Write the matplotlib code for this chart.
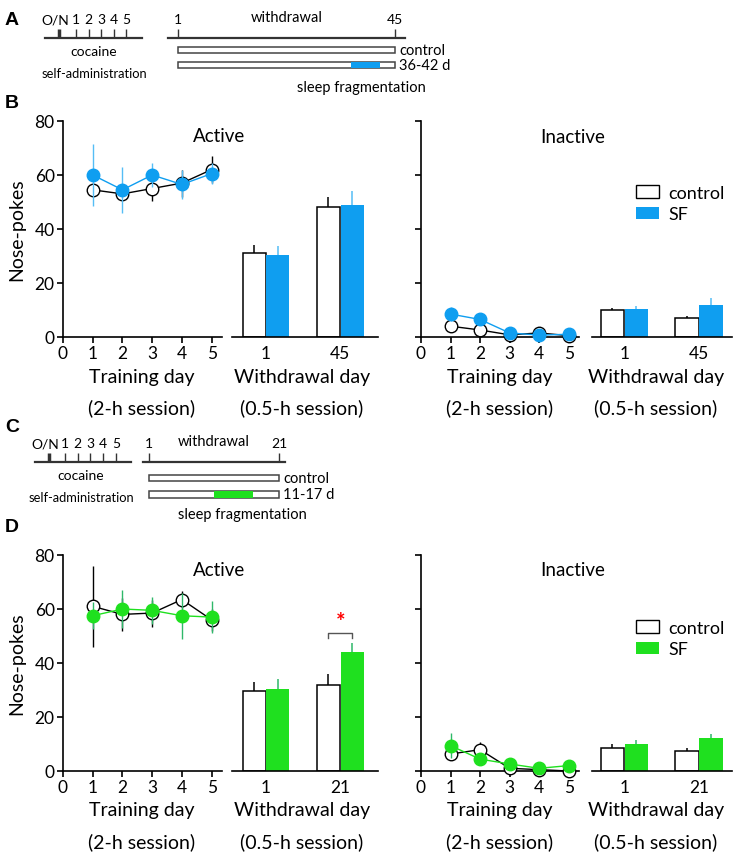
import matplotlib
matplotlib.use("Agg")
import matplotlib.pyplot as plt
from matplotlib.patches import Patch

plt.rcParams['font.family'] = ['Lato', 'DejaVu Sans']

# ---- data ----
days = [1, 2, 3, 4, 5]

# panel B (45 d withdrawal, blue)
b_act_ctrl = [54.5, 53, 55, 57, 62]
b_act_ctrl_err = [2, 2, 4.5, 5, 5]
b_act_sf = [60, 54.5, 60, 56.5, 60.5]
b_act_sf_err = [11.5, 8.5, 4.5, 5.5, 4]
b_act_bar_ctrl = [31, 48]
b_act_bar_ctrl_err = [3, 4]
b_act_bar_sf = [30.5, 49]
b_act_bar_sf_err = [3.2, 5]

b_inact_ctrl = [4, 2.6, 0.8, 1.5, 0.5]
b_inact_ctrl_err = [1, 0.8, 0.5, 0.5, 0.3]
b_inact_sf = [8.5, 6.5, 1.5, 0.7, 1]
b_inact_sf_err = [2.5, 1, 0.5, 0.4, 0.4]
b_inact_bar_ctrl = [10, 7.2]
b_inact_bar_ctrl_err = [0.8, 0.5]
b_inact_bar_sf = [10.5, 12]
b_inact_bar_sf_err = [0.8, 2.5]
b_withdrawal_labels = ['1', '45']

# panel D (21 d withdrawal, green)
d_act_ctrl = [61, 58, 58.5, 63.5, 56]
d_act_ctrl_err = [15, 6, 5, 3, 4]
d_act_sf = [57.5, 60, 59.5, 57.5, 57]
d_act_sf_err = [5, 7, 5, 8.5, 6]
d_act_bar_ctrl = [29.7, 32]
d_act_bar_ctrl_err = [3.3, 4]
d_act_bar_sf = [30.4, 44.2]
d_act_bar_sf_err = [3.6, 3.3]

d_inact_ctrl = [6.3, 7.9, 1, 0.5, 0]
d_inact_ctrl_err = [1.5, 3, 0.8, 0.4, 0.3]
d_inact_sf = [9.4, 4.4, 2.6, 1, 2]
d_inact_sf_err = [4.5, 1, 1, 0.5, 0.5]
d_inact_bar_ctrl = [8.5, 7.3]
d_inact_bar_ctrl_err = [1.5, 1.3]
d_inact_bar_sf = [10, 12.2]
d_inact_bar_sf_err = [1.5, 1.5]
d_withdrawal_labels = ['1', '21']

# timelines
train_labels = ['O/N', '1', '2', '3', '4', '5']
a_withdrawal = (1, 45)
a_sf = (36, 42)
c_withdrawal = (1, 21)
c_sf = (11, 17)

BLUE = '#0f9ef0'
GREEN = '#1fe01f'
GREEN_ERR = '#2fb86a'

W, H = 735, 853
fig = plt.figure(figsize=(W / 100, H / 100), dpi=100)


def px_axes(x0, y0, x1, y1):
    return fig.add_axes([x0 / W, 1 - y1 / H, (x1 - x0) / W, (y1 - y0) / H])


ov = px_axes(0, 0, W, H)
ov.set_xlim(0, W)
ov.set_ylim(H, 0)
ov.axis('off')
ov.set_zorder(10)


def line_panel(ax, ctrl, ctrl_err, sf, sf_err, col, ecol, show_y):
    ax.errorbar(days, ctrl, yerr=ctrl_err, color='k', lw=1, ecolor='k', elinewidth=1,
                marker='o', ms=9, mfc='white', mec='k', mew=1, capsize=0, clip_on=False, zorder=3)
    ax.errorbar(days, sf, yerr=sf_err, color=col, lw=1, ecolor=ecol, elinewidth=1,
                marker='o', ms=9, mfc=col, mec=col, capsize=0, clip_on=False, zorder=4)
    ax.set_xlim(0, 5.35)
    ax.set_ylim(0, 80)
    ax.set_xticks([0, 1, 2, 3, 4, 5])
    ax.set_yticks([0, 20, 40, 60, 80])
    for s in ['top', 'right']:
        ax.spines[s].set_visible(False)
    for s in ['left', 'bottom']:
        ax.spines[s].set_linewidth(1.2)
    ax.tick_params(length=4, width=1.2, labelsize=12.5, pad=2)
    if not show_y:
        ax.set_yticklabels([])


def bar_panel(ax, ctrl, ctrl_err, sf, sf_err, col, ecol, labels):
    x = [1, 2]
    w = 0.31
    xc = [v - 0.16 for v in x]
    xs = [v + 0.16 for v in x]
    ax.bar(xc, ctrl, width=w, color='white', edgecolor='k', lw=1.1, zorder=2)
    ax.bar(xs, sf, width=w, color=col, edgecolor='none', zorder=2)
    ax.errorbar(xc, ctrl, yerr=[[0, 0], ctrl_err], fmt='none', ecolor='k', elinewidth=1.1, capsize=0, zorder=1)
    ax.errorbar(xs, sf, yerr=[[0, 0], sf_err], fmt='none', ecolor=ecol, elinewidth=1.1, capsize=0, zorder=1)
    ax.set_ylim(0, 80)
    ax.set_xticks(x)
    ax.set_xticklabels(labels)
    for s in ['top', 'right', 'left']:
        ax.spines[s].set_visible(False)
    ax.spines['bottom'].set_linewidth(1.2)
    ax.set_yticks([])
    ax.tick_params(axis='x', length=0, labelsize=12.5, pad=6)
    return xc, xs


def xlabels(ax_top, ybot):
    for cx, big, small in [(142, 'Training day', '(2-h session)'),
                           (302, 'Withdrawal day', '(0.5-h session)'),
                           (500, 'Training day', '(2-h session)'),
                           (656, 'Withdrawal day', '(0.5-h session)')]:
        ov.text(cx, ybot + 39, big, ha='center', va='center', fontsize=14)
        ov.text(cx, ybot + 70, small, ha='center', va='center', fontsize=14)
    ov.text(219, ax_top + 14, 'Active', ha='center', va='center', fontsize=13.5)
    ov.text(573, ax_top + 15, 'Inactive', ha='center', va='center', fontsize=13.5)
    ov.text(17, (ax_top + ybot) / 2, 'Nose-pokes', rotation=90, ha='center', va='center', fontsize=14)


def behaviour(top, bot, col, ecol, act, inact, wlabels, leg_y):
    a1 = px_axes(63, top, 222, bot)
    line_panel(a1, act[0], act[1], act[2], act[3], col, ecol, True)
    a2 = px_axes(232, top, 378, bot)
    a2.set_xlim(0.54, 2.51)
    xc, xs = bar_panel(a2, act[4], act[5], act[6], act[7], col, ecol, wlabels)
    a3 = px_axes(421, top, 579, bot)
    line_panel(a3, inact[0], inact[1], inact[2], inact[3], col, ecol, False)
    a4 = px_axes(592, top, 732, bot)
    a4.set_xlim(0.57, 2.44)
    bar_panel(a4, inact[4], inact[5], inact[6], inact[7], col, ecol, wlabels)
    handles = [Patch(facecolor='white', edgecolor='k', lw=1), Patch(facecolor=col, edgecolor='none')]
    fig.legend(handles, ['control', 'SF'], loc='upper left',
               bbox_to_anchor=(636 / W, 1 - leg_y / H), frameon=False, fontsize=13,
               handlelength=1.3, handleheight=0.7, handletextpad=0.5, labelspacing=0.3,
               borderaxespad=0, borderpad=0)
    xlabels(top, bot)
    return a2, xc, xs


b_act = [b_act_ctrl, b_act_ctrl_err, b_act_sf, b_act_sf_err,
         b_act_bar_ctrl, b_act_bar_ctrl_err, b_act_bar_sf, b_act_bar_sf_err]
b_inact = [b_inact_ctrl, b_inact_ctrl_err, b_inact_sf, b_inact_sf_err,
           b_inact_bar_ctrl, b_inact_bar_ctrl_err, b_inact_bar_sf, b_inact_bar_sf_err]
d_act = [d_act_ctrl, d_act_ctrl_err, d_act_sf, d_act_sf_err,
         d_act_bar_ctrl, d_act_bar_ctrl_err, d_act_bar_sf, d_act_bar_sf_err]
d_inact = [d_inact_ctrl, d_inact_ctrl_err, d_inact_sf, d_inact_sf_err,
           d_inact_bar_ctrl, d_inact_bar_ctrl_err, d_inact_bar_sf, d_inact_bar_sf_err]

behaviour(122, 338, BLUE, '#55bdf5', b_act, b_inact, b_withdrawal_labels, 186)
axd, xc, xs = behaviour(556, 772, GREEN, GREEN_ERR, d_act, d_inact, d_withdrawal_labels, 621)

# significance bracket on withdrawal day 21
yb = 51
axd.plot([xc[1], xc[1], xs[1], xs[1]], [yb - 1.8, yb, yb, yb - 1.8], color='#555555', lw=1)
axd.text((xc[1] + xs[1]) / 2, yb + 0.5, '*', color='red', ha='center', va='bottom', fontsize=16, fontweight='bold')


# ---- timelines ----
def timeline(line_y, tx0, tx1, txlim, on_pos, wx0, wx1, wxlim, wdays, sf, sf_col,
             row_y, row_h, cx, sleep_xy, tick_len):
    ta = px_axes(tx0, line_y - tick_len, tx1, line_y)
    ta.set_xlim(*txlim)
    ta.set_xticks([on_pos, 1, 2, 3, 4, 5])
    ta.set_xticklabels([''] + train_labels[1:])
    # O/N label nudged a little left of its tick
    ta.annotate(train_labels[0], xy=(on_pos, 1), xycoords=('data', 'axes fraction'),
                xytext=(-2.5, 2.2), textcoords='offset points', ha='center', va='bottom', fontsize=10)
    wa = px_axes(wx0, line_y - tick_len, wx1, line_y)
    wa.set_xlim(*wxlim)
    wa.set_xticks(list(wdays))
    wa.set_xticklabels([str(d) for d in wdays])
    for a in (ta, wa):
        a.patch.set_alpha(0)
        for s in ['top', 'right', 'left']:
            a.spines[s].set_visible(False)
        a.spines['bottom'].set_linewidth(1.6)
        a.spines['bottom'].set_color('#333333')
        a.set_yticks([])
        a.tick_params(axis='x', direction='in', length=tick_len * 0.72, width=1, color='#333333',
                      bottom=True, top=False, labelbottom=False, labeltop=True, labelsize=10, pad=3)
    ta.xaxis.get_major_ticks()[0].tick1line.set_markeredgewidth(2.5)
    ov.text((wx0 + wx1) / 2, line_y - 21, 'withdrawal', ha='center', va='center', fontsize=10.5)
    ov.text(cx, line_y + 13, 'cocaine', ha='center', va='center', fontsize=10)
    ov.text(cx, line_y + 35, 'self-administration', ha='center', va='center', fontsize=9.3)

    ba = px_axes(wx0, row_y[0] - row_h / 2, wx1, row_y[1] + row_h / 2)
    ba.set_xlim(*wxlim)
    ba.set_ylim(1.5, -0.5)
    ba.axis('off')
    span = wdays[1] - wdays[0]
    ba.barh([0, 1], [span, span], left=wdays[0], height=0.38, color='white',
            edgecolor='#444444', lw=1.1)
    ba.barh(1, sf[1] - sf[0], left=sf[0], height=0.38, color=sf_col, edgecolor='none')
    ba.annotate('control', xy=(wdays[1], 0), xytext=(3, 0), textcoords='offset points',
                va='center', fontsize=10.5)
    ba.annotate('%d-%d d' % sf, xy=(wdays[1], 1), xytext=(3, 0), textcoords='offset points',
                va='center', fontsize=10.5)
    ov.text(sleep_xy[0], sleep_xy[1], 'sleep fragmentation', ha='center', va='center', fontsize=10.5)


timeline(39, 45, 142, (-1.48, 6.28), -0.36, 168, 405, (-1.03, 47.03), a_withdrawal, a_sf, BLUE,
         (51, 66), 30 / 2, 94, (361, 88), 9)
timeline(463, 35, 131, (-1.35, 6.18), -0.25, 143, 285, (0.08, 21.92), c_withdrawal, c_sf, GREEN,
         (479, 495.5), 33 / 2, 81, (242, 515), 9)

# panel letters
for lab, y in [('A', 20), ('B', 103), ('C', 428), ('D', 528)]:
    ov.text(12, y, lab, ha='center', va='center', fontsize=14, fontweight='bold',
            family=['Liberation Sans', 'DejaVu Sans'])

fig.savefig('out.png', dpi=100)
